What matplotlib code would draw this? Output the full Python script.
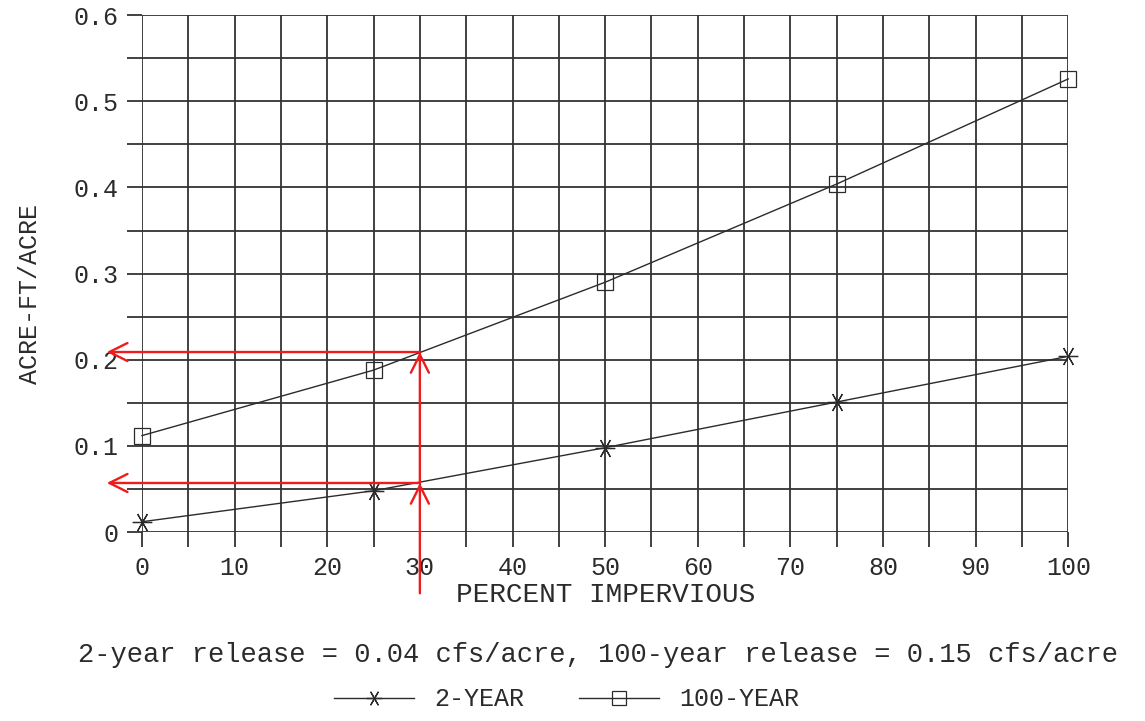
import matplotlib
matplotlib.use("Agg")
import matplotlib.pyplot as plt
from matplotlib.ticker import MultipleLocator, FixedLocator

# values
pct_impervious = [0, 25, 50, 75, 100]
two_year = [0.012, 0.048, 0.098, 0.151, 0.204]
hundred_year = [0.112, 0.188, 0.290, 0.404, 0.526]

x_ticks = [0, 10, 20, 30, 40, 50, 60, 70, 80, 90, 100]
y_ticks = [0, 0.1, 0.2, 0.3, 0.4, 0.5, 0.6]
y_tick_labels = ["0", "0.1", "0.2", "0.3", "0.4", "0.5", "0.6"]

# red reading lines at 30 % impervious
read_x = 30
read_2yr = 0.057
read_100yr = 0.209
read_left = -3.8
read_bottom = -0.071

plt.rcParams['font.family'] = ['Liberation Mono', 'DejaVu Sans Mono']
ink = '#2b2b2b'

fig = plt.figure(figsize=(11.45, 7.21), dpi=100)
ax = fig.add_axes([0.124, 0.262, 0.809, 0.717])

ax.plot(pct_impervious, two_year, color=ink, lw=1.0,
        marker=(6, 2, 90), markersize=14, markeredgewidth=0.9,
        clip_on=False, label='2-YEAR')
ax.plot(pct_impervious, hundred_year, color=ink, lw=1.0,
        marker='s', markersize=12, markerfacecolor='none',
        markeredgewidth=0.9, clip_on=False, label='100-YEAR')

ax.set_xlim(0, 100)
ax.set_ylim(0, 0.6)
ax.xaxis.set_major_locator(FixedLocator(x_ticks))
ax.xaxis.set_minor_locator(MultipleLocator(5))
ax.yaxis.set_major_locator(FixedLocator(y_ticks))
ax.yaxis.set_minor_locator(MultipleLocator(0.05))
ax.set_yticklabels(y_tick_labels)
ax.grid(True, which='both', color='#333333', lw=1.3)
ax.set_axisbelow(True)
ax.tick_params(which='both', direction='out', length=11, width=1.3,
               color='#333333', labelsize=18, labelcolor=ink, pad=6)
for side in ['top', 'bottom', 'left', 'right']:
    ax.spines[side].set_visible(False)

ax.set_xlabel('PERCENT IMPERVIOUS', fontsize=20, color=ink, labelpad=2)
ax.set_ylabel('ACRE-FT/ACRE', fontsize=18, color=ink, labelpad=26)
ax.yaxis.set_label_coords(-0.108, 0.46)

# red arrows
red = '#ee1c1c'
arrow = dict(arrowstyle='->,head_length=1.3,head_width=0.65', color=red,
             lw=1.7, shrinkA=0, shrinkB=0)
ax.annotate('', xy=(read_x, read_2yr), xytext=(read_x, read_bottom),
            arrowprops=arrow, annotation_clip=False)
ax.annotate('', xy=(read_x, read_100yr), xytext=(read_x, read_2yr),
            arrowprops=arrow, annotation_clip=False)
ax.annotate('', xy=(read_left, read_100yr), xytext=(read_x, read_100yr),
            arrowprops=arrow, annotation_clip=False)
ax.annotate('', xy=(read_left, read_2yr), xytext=(read_x, read_2yr),
            arrowprops=arrow, annotation_clip=False)

fig.text(0.522, 0.092,
         '2-year release = 0.04 cfs/acre, 100-year release = 0.15 cfs/acre',
         ha='center', va='center', fontsize=19.5, color=ink)

fig.legend(loc='center', bbox_to_anchor=(0.495, 0.03), ncol=2, frameon=False,
           fontsize=18, handlelength=3.2, columnspacing=2.2, markerscale=0.8,
           labelcolor=ink)

fig.savefig('out.png', dpi=100, facecolor='white')
